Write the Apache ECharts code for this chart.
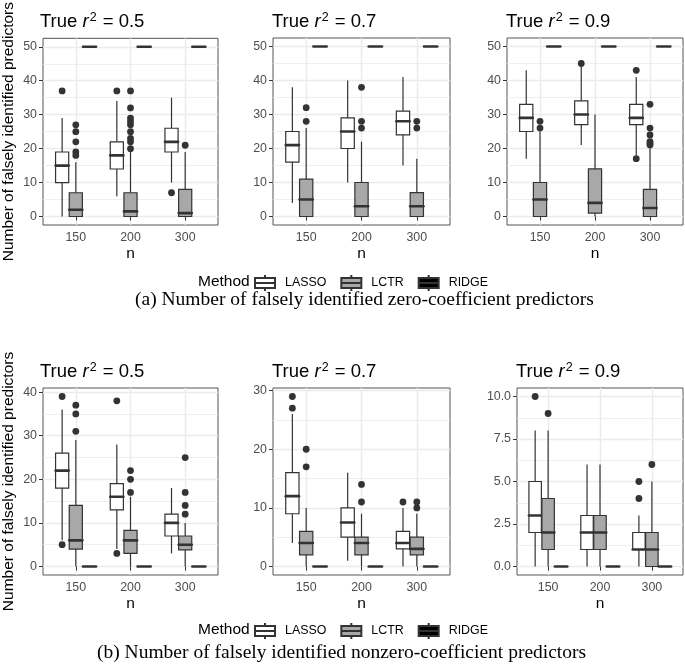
<!DOCTYPE html>
<html><head><meta charset="utf-8">
<script src="https://cdn.jsdelivr.net/npm/echarts@6/dist/echarts.min.js"></script>
<style>html,body{margin:0;padding:0;background:#fff}#c{width:685px;height:671px}</style>
</head><body><div id="c"></div><script>
// ---------- DATA ----------
const nLabels = ['150', '200', '300'];
const methods = ['LASSO', 'LCTR', 'RIDGE'];
const r2Labels = ['0.5', '0.7', '0.9'];
// box stats: [lower whisker, Q1, median, Q3, upper whisker] for n = 150, 200, 300
// (a) falsely identified zero-coefficient predictors
const zero05Lasso = [[0, 10, 15, 19, 29], [6, 14, 18, 22, 34], [10, 19, 22, 26, 35]];
const zero05Lctr  = [[0, 0, 2, 7, 16], [0, 0, 1.5, 7, 19], [0, 0, 1, 8, 19]];
const zero05Ridge = [[50, 50, 50, 50, 50], [50, 50, 50, 50, 50], [50, 50, 50, 50, 50]];
const zero05LassoOut = [[0, 37], [1, 37], [2, 7]];
const zero05LctrOut  = [[0, 27], [0, 25], [0, 22], [0, 19], [0, 18],
  [1, 37], [1, 32], [1, 29], [1, 28], [1, 27], [1, 25], [1, 23], [1, 22], [1, 20], [2, 21]];

const zero07Lasso = [[4, 16, 21, 25, 38], [10, 20, 25, 29, 40], [15, 24, 28, 31, 41]];
const zero07Lctr  = [[0, 0, 5, 11, 26], [0, 0, 3, 10, 22], [0, 0, 3, 7, 17]];
const zero07Ridge = [[50, 50, 50, 50, 50], [50, 50, 50, 50, 50], [50, 50, 50, 50, 50]];
const zero07LassoOut = [];
const zero07LctrOut  = [[0, 32], [0, 28], [1, 38], [1, 28], [1, 26], [2, 28], [2, 26]];

const zero09Lasso = [[17, 25, 29, 33, 43], [21, 27, 30, 34, 44], [18, 27, 29, 33, 41]];
const zero09Lctr  = [[0, 0, 5, 10, 25], [0, 1, 4, 14, 30], [0, 0, 2.5, 8, 20]];
const zero09Ridge = [[50, 50, 50, 50, 50], [50, 50, 50, 50, 50], [50, 50, 50, 50, 50]];
const zero09LassoOut = [[1, 45], [2, 43], [2, 17]];
const zero09LctrOut  = [[0, 28], [0, 26], [2, 33], [2, 26], [2, 24], [2, 22], [2, 21.5], [2, 21]];

// (b) falsely identified nonzero-coefficient predictors
const nonzero05Lasso = [[6, 18, 22, 26, 36], [4, 13, 16, 19, 28], [3, 7, 10, 12, 18]];
const nonzero05Lctr  = [[0, 4, 6, 14, 29], [0, 3, 6, 8.3, 16], [0, 3.8, 5, 7, 10]];
const nonzero05Ridge = [[0, 0, 0, 0, 0], [0, 0, 0, 0, 0], [0, 0, 0, 0, 0]];
const nonzero05LassoOut = [[0, 39], [0, 5], [1, 38], [1, 3]];
const nonzero05LctrOut  = [[0, 37], [0, 35], [0, 31], [1, 22], [1, 20], [1, 17], [2, 25], [2, 17], [2, 14], [2, 12]];

const nonzero07Lasso = [[4, 9, 12, 16, 26], [1, 5, 7.5, 10, 16], [0, 3, 4, 6, 10]];
const nonzero07Lctr  = [[0, 2, 4, 6, 10], [0, 2, 4, 5, 9], [0, 2, 3, 5, 9]];
const nonzero07Ridge = [[0, 0, 0, 0, 0], [0, 0, 0, 0, 0], [0, 0, 0, 0, 0]];
const nonzero07LassoOut = [[0, 29], [0, 27], [2, 11]];
const nonzero07LctrOut  = [[0, 20], [0, 17], [1, 14], [1, 11], [2, 11], [2, 10]];

const nonzero09Lasso = [[0, 2, 3, 5, 8], [0, 1, 2, 3, 6], [0, 1, 1, 2, 3]];
const nonzero09Lctr  = [[0, 1, 2, 4, 8], [0, 1, 2, 3, 6], [0, 0, 1, 2, 5]];
const nonzero09Ridge = [[0, 0, 0, 0, 0], [0, 0, 0, 0, 0], [0, 0, 0, 0, 0]];
const nonzero09LassoOut = [[0, 10], [2, 5], [2, 4]];
const nonzero09LctrOut  = [[0, 9], [2, 6]];

// y tick labels per panel
const yTicksTop = [0, 10, 20, 30, 40, 50];
const yTicksB1 = [0, 10, 20, 30, 40];
const yTicksB2 = [0, 10, 20, 30];
const yTicksB3 = [0, 2.5, 5, 7.5, 10];

// ---------- LAYOUT / STYLE ----------
const SANS = 'Liberation Sans, Arial, Helvetica, sans-serif';
const SERIF = 'Liberation Serif, Times New Roman, serif';
const fills = { LASSO: '#FFFFFF', LCTR: '#A8A8A8', RIDGE: '#000000' };
const dodge = { LASSO: -0.25, LCTR: 0, RIDGE: 0.25 };
const BOX_W = 0.24;
const STROKE = '#333333';

const panels = [
  { grid: { left: 41, top: 38, width: 177, height: 187 }, r2: 0, range: [-2.5, 52.5], ticks: yTicksTop, yName: true,
    box: [zero05Lasso, zero05Lctr, zero05Ridge], out: [zero05LassoOut, zero05LctrOut] },
  { grid: { left: 273, top: 38, width: 177, height: 187 }, r2: 1, range: [-2.5, 52.5], ticks: yTicksTop,
    box: [zero07Lasso, zero07Lctr, zero07Ridge], out: [zero07LassoOut, zero07LctrOut] },
  { grid: { left: 507, top: 38, width: 176, height: 187 }, r2: 2, range: [-2.5, 52.5], ticks: yTicksTop,
    box: [zero09Lasso, zero09Lctr, zero09Ridge], out: [zero09LassoOut, zero09LctrOut] },
  { grid: { left: 41, top: 388, width: 177, height: 187 }, r2: 0, range: [-1.95, 40.95], ticks: yTicksB1, yName: true,
    box: [nonzero05Lasso, nonzero05Lctr, nonzero05Ridge], out: [nonzero05LassoOut, nonzero05LctrOut] },
  { grid: { left: 273, top: 388, width: 177, height: 187 }, r2: 1, range: [-1.45, 30.45], ticks: yTicksB2,
    box: [nonzero07Lasso, nonzero07Lctr, nonzero07Ridge], out: [nonzero07LassoOut, nonzero07LctrOut] },
  { grid: { left: 517, top: 388, width: 166, height: 187 }, r2: 2, range: [-0.5, 10.5], ticks: yTicksB3, decimals: 1,
    box: [nonzero09Lasso, nonzero09Lctr, nonzero09Ridge], out: [nonzero09LassoOut, nonzero09LctrOut] }
];

function makeRender(fill) {
  return function (params, api) {
    const x = api.value(0);
    const p = [1, 2, 3, 4, 5].map(i => api.coord([x, api.value(i)]));
    const w = api.size([BOX_W, 0])[0];
    const cx = p[0][0];
    return {
      type: 'group',
      children: [
        { type: 'line', shape: { x1: cx, y1: p[0][1], x2: cx, y2: p[1][1] }, style: { stroke: STROKE, lineWidth: 1.2 } },
        { type: 'line', shape: { x1: cx, y1: p[3][1], x2: cx, y2: p[4][1] }, style: { stroke: STROKE, lineWidth: 1.2 } },
        { type: 'rect', shape: { x: cx - w / 2, y: p[3][1], width: w, height: p[1][1] - p[3][1] }, style: { fill: fill, stroke: STROKE, lineWidth: 1.2 } },
        { type: 'line', shape: { x1: cx - w / 2, y1: p[2][1], x2: cx + w / 2, y2: p[2][1] }, style: { stroke: STROKE, lineWidth: 2.6, lineCap: 'round' } }
      ]
    };
  };
}

const grids = [], xAxes = [], yAxes = [], series = [], titles = [];
panels.forEach((pn, gi) => {
  grids.push(Object.assign({ show: true, borderColor: '#555555', borderWidth: 1, backgroundColor: '#fff' }, pn.grid));
  xAxes.push({
    type: 'value', gridIndex: gi, min: 0.4, max: 3.6,
    name: 'n', nameLocation: 'middle', nameGap: 21,
    nameTextStyle: { fontFamily: SANS, fontSize: 15.5, color: '#000' },
    axisLine: { show: false },
    axisTick: { show: true, customValues: [1, 2, 3], length: 4, lineStyle: { color: STROKE, width: 1 } },
    axisLabel: { customValues: [1, 2, 3], formatter: v => nLabels[Math.round(v) - 1], margin: 7,
      fontFamily: SANS, fontSize: 12.4, color: '#4D4D4D' },
    splitLine: { show: false }
  });
  yAxes.push({
    type: 'value', gridIndex: gi, min: pn.range[0], max: pn.range[1],
    name: pn.yName ? 'Number of falsely identified predictors' : '',
    nameLocation: 'middle', nameGap: 26,
    nameTextStyle: { fontFamily: SANS, fontSize: 15.5, color: '#000' },
    axisLine: { show: false },
    axisTick: { show: true, customValues: pn.ticks, length: 4, lineStyle: { color: STROKE, width: 1 } },
    axisLabel: { customValues: pn.ticks, formatter: v => pn.decimals ? v.toFixed(pn.decimals) : String(v), margin: 6,
      fontFamily: SANS, fontSize: 12.4, color: '#4D4D4D' },
    splitLine: { show: false }
  });
  // grid lines (major + minor) via markLine on a helper series
  const lines = [];
  const t = pn.ticks;
  t.forEach(v => lines.push({ yAxis: v, lineStyle: { color: '#EBEBEB', width: 1.4, type: 'solid' } }));
  for (let i = 0; i < t.length - 1; i++) {
    lines.push({ yAxis: (t[i] + t[i + 1]) / 2, lineStyle: { color: '#EBEBEB', width: 0.8, type: 'solid' } });
  }
  [1, 2, 3].forEach(v => lines.push({ xAxis: v, lineStyle: { color: '#EBEBEB', width: 1.4, type: 'solid' } }));
  series.push({
    type: 'line', name: 'grid' + gi, xAxisIndex: gi, yAxisIndex: gi, data: [], z: 0, silent: true,
    markLine: { z: 0, silent: true, symbol: ['none', 'none'], label: { show: false }, animation: false, data: lines }
  });
  methods.forEach((m, mi) => {
    series.push({
      type: 'custom', name: m, xAxisIndex: gi, yAxisIndex: gi, z: 3, silent: true,
      itemStyle: { color: fills[m], borderColor: STROKE, borderWidth: 1.2 },
      encode: { x: 0, y: [1, 2, 3, 4, 5] },
      renderItem: makeRender(fills[m]),
      data: pn.box[mi].map((s, ci) => [ci + 1 + dodge[m]].concat(s))
    });
  });
  ['LASSO', 'LCTR'].forEach((m, mi) => {
    series.push({
      type: 'scatter', name: m + ' outliers', xAxisIndex: gi, yAxisIndex: gi, z: 4, silent: true,
      symbolSize: 6.8, itemStyle: { color: STROKE, opacity: 1 },
      data: pn.out[mi].map(o => [o[0] + 1 + dodge[m], o[1]])
    });
  });
  titles.push({
    text: '{t|True }{it|r}{sup|2}{t| = ' + r2Labels[pn.r2] + '}',
    left: pn.grid.left - 1, top: pn.grid.top - 27, padding: 0,
    textStyle: {
      fontWeight: 'normal',
      rich: {
        t: { fontFamily: SANS, fontSize: 18.5, fontWeight: 'normal', color: '#000', lineHeight: 22 },
        it: { fontFamily: SANS, fontSize: 18.5, fontWeight: 'normal', fontStyle: 'italic', color: '#000', lineHeight: 22 },
        sup: { fontFamily: SANS, fontSize: 12.5, fontWeight: 'normal', color: '#000', verticalAlign: 'top', lineHeight: 22, padding: [0, 1, 0, 1] }
      }
    }
  });
});

// legend "Method" titles and captions
[282, 630].forEach(cy => {
  titles.push({ text: 'Method', left: 198, top: cy - 9, padding: 0,
    textStyle: { fontFamily: SANS, fontSize: 15.5, fontWeight: 'normal', color: '#000', lineHeight: 18 } });
});
titles.push({ text: '(a) Number of falsely identified zero-coefficient predictors', left: 135, top: 289, padding: 0,
  textStyle: { fontFamily: SERIF, fontSize: 19.5, fontWeight: 'normal', color: '#000', lineHeight: 22 } });
titles.push({ text: '(b) Number of falsely identified nonzero-coefficient predictors', left: 97, top: 642, padding: 0,
  textStyle: { fontFamily: SERIF, fontSize: 19.5, fontWeight: 'normal', color: '#000', lineHeight: 22 } });

const keyIcon = 'path://M0,3L20,3L20,13L0,13Z M0,8L20,8 M10,0L10,3 M10,13L10,16 M25,8';
const legendBase = {
  data: methods, orient: 'horizontal', left: 254, itemWidth: 25, itemHeight: 16, itemGap: 14, padding: 0,
  icon: keyIcon, selectedMode: false,
  textStyle: { fontFamily: SANS, fontSize: 12.4, color: '#000' }
};
const legends = [Object.assign({}, legendBase, { top: 274 }), Object.assign({}, legendBase, { top: 622 })];

const chart = echarts.init(document.getElementById('c'), null, { renderer: 'canvas' });
chart.setOption({
  animation: false,
  backgroundColor: '#fff',
  title: titles,
  legend: legends,
  grid: grids,
  xAxis: xAxes,
  yAxis: yAxes,
  series: series
});
</script></body></html>
